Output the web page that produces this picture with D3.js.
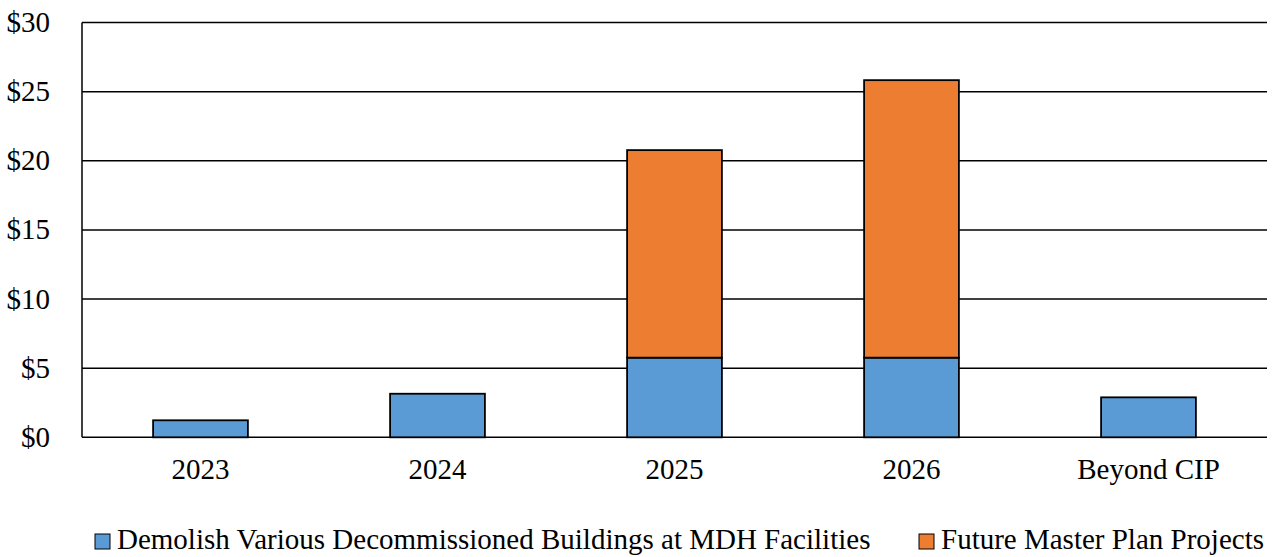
<!DOCTYPE html>
<html>
<head>
<meta charset="utf-8">
<script src="https://cdn.jsdelivr.net/npm/d3@7"></script>
<style>
  body { margin: 0; background: #fff; }
  text { font-family: "Liberation Serif", "Times New Roman", serif; fill: #000; }
</style>
</head>
<body>
<svg id="chart"></svg>
<script>
// chart data
var categories = ["2023", "2024", "2025", "2026", "Beyond CIP"];
var demolish = [1.23, 3.15, 5.76, 5.76, 2.89];
var masterPlan = [0, 0, 15.01, 20.07, 0];
var seriesNames = ["Demolish Various Decommissioned Buildings at MDH Facilities", "Future Master Plan Projects"];
var seriesColors = ["#5b9bd5", "#ed7d31"];
var yTicks = [0, 5, 10, 15, 20, 25, 30];

var width = 1276, height = 557;
var margin = {top: 22.5, right: 9, bottom: 120, left: 82};

var svg = d3.select("#chart")
  .attr("width", width)
  .attr("height", height);

var x = d3.scaleBand()
  .domain(categories)
  .range([margin.left, width - margin.right])
  .paddingInner(0.6)
  .paddingOuter(0.3);

var y = d3.scaleLinear()
  .domain([0, 30])
  .range([height - margin.bottom + 0.3, margin.top]);

// gridlines
svg.append("g")
  .selectAll("line")
  .data(yTicks)
  .enter().append("line")
    .attr("x1", margin.left)
    .attr("x2", width - margin.right)
    .attr("y1", function(d) { return y(d); })
    .attr("y2", function(d) { return y(d); })
    .attr("stroke", "#000")
    .attr("stroke-width", 1.5);

// y labels
svg.append("g")
  .selectAll("text")
  .data(yTicks)
  .enter().append("text")
    .attr("x", 50)
    .attr("y", function(d) { return y(d); })
    .attr("dy", "0.33em")
    .style("text-anchor", "end")
    .style("font-size", "29px")
    .text(function(d) { return "$" + d; });

// left axis line
svg.append("line")
  .attr("x1", margin.left).attr("x2", margin.left)
  .attr("y1", y(0)).attr("y2", y(30))
  .attr("stroke", "#000")
  .attr("stroke-width", 1.5);

// stacked bars
var rows = categories.map(function(c, i) {
  return {cat: c, demolish: demolish[i], masterPlan: masterPlan[i]};
});
var stack = d3.stack().keys(["demolish", "masterPlan"]);
var layers = stack(rows);

svg.append("g")
  .selectAll("g")
  .data(layers)
  .enter().append("g")
    .attr("fill", function(d, i) { return seriesColors[i]; })
  .selectAll("rect")
  .data(function(d) { return d.filter(function(p) { return p[1] - p[0] > 0; }); })
  .enter().append("rect")
    .attr("x", function(d) { return x(d.data.cat); })
    .attr("width", x.bandwidth())
    .attr("y", function(d) { return y(d[1]); })
    .attr("height", function(d) { return y(d[0]) - y(d[1]); })
    .attr("stroke", "#000")
    .attr("stroke-width", 1.8);

// x labels
svg.append("g")
  .selectAll("text")
  .data(categories)
  .enter().append("text")
    .attr("x", function(d) { return x(d) + x.bandwidth() / 2; })
    .attr("y", 479)
    .style("text-anchor", "middle")
    .style("font-size", "29px")
    .text(function(d) { return d; });

// legend
var legendX = [95, 919];
var legend = svg.append("g")
  .selectAll("g")
  .data(seriesNames)
  .enter().append("g")
    .attr("transform", function(d, i) { return "translate(" + legendX[i] + ",534)"; });

legend.append("rect")
  .attr("width", 15)
  .attr("height", 15)
  .attr("fill", function(d, i) { return seriesColors[i]; })
  .attr("stroke", "#000")
  .attr("stroke-width", 1);

legend.append("text")
  .attr("x", 22)
  .attr("y", 14.5)
  .style("font-size", "29px")
  .text(function(d) { return d; });
</script>
</body>
</html>
